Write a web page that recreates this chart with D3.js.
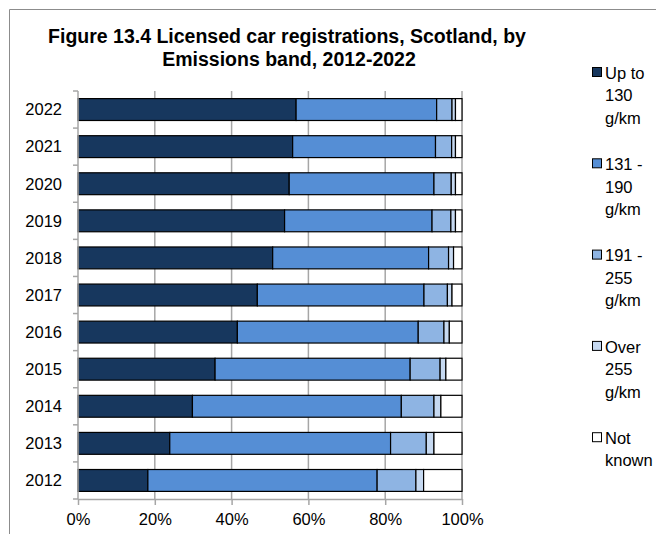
<!DOCTYPE html>
<style>
body { margin: 0; background: #fff; }
text { font-family: "Liberation Sans", Arial, sans-serif; fill: #000; }
.grid line { stroke: #a6a6a6; stroke-width: 1.5; }
.axis path, .axis line { stroke: #a6a6a6; stroke-width: 1.5; }
</style>
<svg id="chart" width="656" height="534"></svg>
<script src="https://d3js.org/d3.v7.min.js"></script>
<script>

var years = ["2022", "2021", "2020", "2019", "2018", "2017", "2016", "2015", "2014", "2013", "2012"];
var bands = ["Up to 130 g/km", "131 - 190 g/km", "191 - 255 g/km", "Over 255 g/km", "Not known"];
var legendLines = [["Up to", "130", "g/km"], ["131 -", "190", "g/km"], ["191 -", "255", "g/km"], ["Over", "255", "g/km"], ["Not", "known"]];
// percent share per year, same order as years
var upTo130 = [56.8, 55.9, 55.0, 53.8, 50.7, 46.7, 41.5, 35.7, 29.8, 23.9, 18.2];
var from131 = [36.6, 37.2, 37.7, 38.4, 40.6, 43.4, 47.1, 50.8, 54.4, 57.5, 59.7];
var from191 = [4.0, 4.2, 4.5, 4.9, 5.2, 6.1, 6.7, 7.8, 8.5, 9.3, 10.1];
var over255 = [0.9, 1.0, 1.1, 1.2, 1.3, 1.2, 1.4, 1.5, 1.8, 2.0, 2.0];
var notKnown = [1.7, 1.7, 1.7, 1.7, 2.2, 2.6, 3.3, 4.2, 5.5, 7.3, 10.0];
var xTicks = [0, 20, 40, 60, 80, 100];
var colors = ["#17375e", "#558ed5", "#8eb4e3", "#c6d9f1", "#ffffff"];

var series = [upTo130, from131, from191, over255, notKnown];
var data = years.map(function(y, i) {
  var row = {year: y};
  bands.forEach(function(b, j) { row[b] = series[j][i]; });
  return row;
});

var svg = d3.select("#chart");
var margin = {top: 91, left: 78, right: 194, bottom: 35};
var width = 656 - margin.left - margin.right;
var height = 534 - margin.top - margin.bottom;

// outer frame
svg.append("path").attr("d", "M9.5,534V9.5H656").attr("fill", "none").attr("stroke", "#8c8c8c").attr("stroke-width", 1);

svg.append("text").attr("x", 287).attr("y", 43).attr("text-anchor", "middle")
  .attr("font-size", 19.5).attr("font-weight", "bold").text("Figure 13.4 Licensed car registrations, Scotland, by");
svg.append("text").attr("x", 289).attr("y", 66).attr("text-anchor", "middle")
  .attr("font-size", 19.5).attr("font-weight", "bold").text("Emissions band, 2012-2022");

var g = svg.append("g").attr("transform", "translate(" + margin.left + "," + margin.top + ")");

var x = d3.scaleLinear().domain([0, 100]).range([0, width]);
var y = d3.scaleBand().domain(years).range([0, height]).paddingInner(0.41).paddingOuter(0.205);

g.append("g").attr("class", "grid")
  .selectAll("line").data(xTicks.slice(1)).enter().append("line")
  .attr("x1", function(d) { return x(d); }).attr("x2", function(d) { return x(d); })
  .attr("y1", 0).attr("y2", height);

var stack = d3.stack().keys(bands)(data);

g.selectAll("g.layer").data(stack).enter().append("g")
  .attr("class", "layer")
  .attr("fill", function(d, i) { return colors[i]; })
  .selectAll("rect").data(function(d) { return d; }).enter().append("rect")
  .attr("x", function(d) { return x(d[0]); })
  .attr("y", function(d) { return y(d.data.year); })
  .attr("width", function(d) { return x(d[1]) - x(d[0]); })
  .attr("height", y.bandwidth())
  .attr("stroke", "#000").attr("stroke-width", 1.2);

// x axis
var xAxis = g.append("g").attr("class", "axis")
  .attr("transform", "translate(0," + height + ")")
  .call(d3.axisBottom(x).tickValues(xTicks).tickSize(6).tickSizeOuter(0).tickPadding(8)
    .tickFormat(function(d) { return d + "%"; }));
xAxis.selectAll("text").attr("font-size", 16.5);

// y axis with ticks between bands
var yAxis = g.append("g").attr("class", "axis");
yAxis.append("line").attr("x1", 0).attr("x2", 0).attr("y1", 0).attr("y2", height);
var step = y.step();
yAxis.selectAll("line.tk").data(d3.range(years.length + 1)).enter().append("line").attr("class", "tk")
  .attr("x1", -5).attr("x2", 0)
  .attr("y1", function(d) { return d * step; }).attr("y2", function(d) { return d * step; });
yAxis.selectAll("text").data(years).enter().append("text")
  .attr("x", -16).attr("y", function(d) { return y(d) + y.bandwidth() / 2; })
  .attr("dy", "0.35em").attr("text-anchor", "end").attr("font-size", 16.5)
  .text(function(d) { return d; });

// legend
var legend = svg.append("g").attr("transform", "translate(592,0)");
var item = legend.selectAll("g").data(legendLines).enter().append("g")
  .attr("transform", function(d, i) { return "translate(0," + (73 + i * 91.3) + ")"; });
item.append("rect").attr("x", 0.5).attr("y", -5.5).attr("width", 9).attr("height", 9)
  .attr("fill", function(d, i) { return colors[i]; }).attr("stroke", "#000").attr("stroke-width", 1);
item.selectAll("text").data(function(d) { return d; }).enter().append("text")
  .attr("x", 13)
  .attr("y", function(d, i) { return i * 22.5; })
  .attr("dy", "0.35em").attr("font-size", 16.5)
  .text(function(d) { return d; });

</script>
